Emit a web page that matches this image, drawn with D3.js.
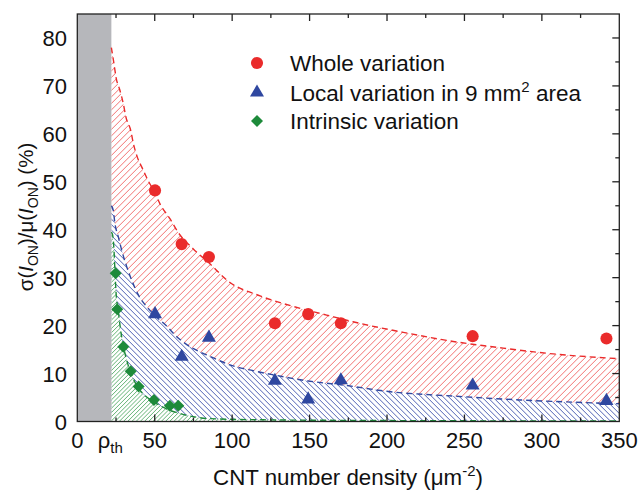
<!DOCTYPE html>
<html><head><meta charset="utf-8">
<script src="https://cdn.jsdelivr.net/npm/d3@7"></script>
<style>body{margin:0;background:#fff}text{font-family:"Liberation Sans",Arial,sans-serif;fill:#111}</style>
</head><body><svg id="c" width="638" height="490"></svg>
<script>
// ---- data ----
const xTicks = [0, 50, 100, 150, 200, 250, 300, 350];
const yTicks = [0, 10, 20, 30, 40, 50, 60, 70, 80];
const rhoTh = 22;
const densityX = [50.2, 67.4, 85, 127.6, 149.1, 170.2, 255.3, 341.7];
const wholeY = [48.2, 37.0, 34.3, 20.5, 22.4, 20.5, 17.8, 17.3];
const localY = [22.4, 13.5, 17.5, 8.5, 4.6, 8.6, 7.5, 4.3];
const intrinsicX = [24.8, 25.8, 29.7, 34.5, 39.6, 49.5, 59.8, 65.2];
const intrinsicY = [30.9, 23.4, 15.6, 10.5, 7.3, 4.5, 3.3, 3.3];
const wholeFitX = [22, 23.7, 25, 27.6, 29.7, 31.4, 34.5, 36.2, 38.7, 42.2, 45.8, 50, 53.4, 59.8, 65.2, 74.9, 84.6, 98.6, 118, 139.4, 161, 178, 210.5, 242.7, 275, 307.3, 350];
const wholeFitY = [78, 74.6, 71.8, 69, 66.3, 63.5, 60.7, 58, 55.2, 52.7, 50.2, 47.8, 45.4, 42.3, 39.4, 36, 33.2, 29, 26.2, 24, 22.2, 20.8, 18.6, 16.7, 15.3, 14.1, 13.1];
const localFitX = [22, 23.2, 24.3, 26.5, 28.7, 31.9, 35.1, 39.4, 45.8, 51.2, 57.7, 64.2, 72.8, 83.5, 91, 98.6, 113.6, 128.7, 150.2, 171.7, 199.7, 242.7, 285.8, 350];
const localFitY = [45, 44.1, 41.3, 38.5, 35.7, 32.3, 29.5, 26.4, 23.6, 21.8, 19.9, 17.7, 15.6, 13.9, 12.8, 11.8, 10.6, 9.6, 8.4, 7.6, 6.3, 5.3, 4.5, 3.7];
const intrinsicFitX = [22, 22.8, 23.7, 24.3, 25, 26.5, 28, 29.7, 31.9, 34.5, 39.4, 43.7, 49.1, 54.5, 60, 65, 70.6, 77.1, 85.7, 120, 200, 350];
const intrinsicFitY = [39.5, 38.9, 35.7, 31.5, 27, 23, 19, 15.8, 12.8, 10.2, 7, 5.4, 4.2, 3.1, 2.3, 1.8, 1.3, 0.9, 0.6, 0.35, 0.2, 0.1];
const legendLabels = ["Whole variation", "Local variation in 9 mm", "Intrinsic variation"];

// ---- setup ----
const svg = d3.select("#c");
const X0 = 77.3, X1 = 619.3, Y0 = 421.5, Y1 = 14;
const x = d3.scaleLinear().domain([0, 350]).range([X0, X1]);
const y = d3.scaleLinear().domain([0, 85]).range([Y0, Y1]);
const RED = "#ea2b2b", BLUE = "#2f47a0", GREEN = "#1d8a3a";

const defs = svg.append("defs");
const zip = (a, b) => a.map((v, i) => [v, b[i]]);
const wholeFit = zip(wholeFitX, wholeFitY), localFit = zip(localFitX, localFitY), intrFit = zip(intrinsicFitX, intrinsicFitY);
const area = d3.area().x(d => x(d[0])).y0(y(0)).y1(d => y(d[1])).curve(d3.curveMonotoneX);
const line = d3.line().x(d => x(d[0])).y(d => y(d[1])).curve(d3.curveMonotoneX);

const plotClip = defs.append("clipPath").attr("id", "plot");
plotClip.append("rect").attr("x", X0).attr("y", Y1).attr("width", X1 - X0).attr("height", Y0 - Y1);
const fits = { cRed: wholeFit, cBlue: localFit, cGreen: intrFit };
Object.entries(fits).forEach(([id, pts]) => {
  defs.append("clipPath").attr("id", id).append("path").attr("d", area(pts));
});

const g = svg.append("g").attr("clip-path", "url(#plot)");
function hatchLines(clipId, color, spacing, dir, w) {
  const H = Y0 - Y1;
  const hg = g.append("g").attr("clip-path", `url(#${clipId})`);
  hg.append("path").attr("d", area(fits[clipId])).attr("fill", "#ffffff");
  const segs = [];
  for (let sx = X0 - H; sx < X1 + H; sx += spacing) {
    if (dir === "/") segs.push(`M${sx},${Y0} L${sx + H},${Y1}`);
    else segs.push(`M${sx},${Y1} L${sx + H},${Y0}`);
  }
  hg.append("path").attr("d", segs.join(" ")).attr("fill", "none").attr("stroke", color).attr("stroke-width", w);
}
hatchLines("cRed", "#f27272", 6.5, "/", 1);
hatchLines("cBlue", "#5263b5", 5.5, "\\", 1);
hatchLines("cGreen", "#52aa66", 4.2, "/", 0.9);

// grey band below threshold
g.append("rect").attr("x", x(0)).attr("y", Y1).attr("width", x(rhoTh) - x(0)).attr("height", Y0 - Y1).attr("fill", "#b6b7bb");

g.append("path").attr("d", line(wholeFit)).attr("fill", "none").attr("stroke", RED).attr("stroke-width", 1.4).attr("stroke-dasharray", "6,4");
g.append("path").attr("d", line(localFit)).attr("fill", "none").attr("stroke", BLUE).attr("stroke-width", 1.4).attr("stroke-dasharray", "6,4");
g.append("path").attr("d", line(intrFit)).attr("fill", "none").attr("stroke", GREEN).attr("stroke-width", 1.4).attr("stroke-dasharray", "6,4");

// markers
const circ = d3.symbol().type(d3.symbolCircle).size(115);
const tri = d3.symbol().type(d3.symbolTriangle).size(85);
const dia = d3.symbol().type(d3.symbolSquare).size(72);
svg.append("g").selectAll("path").data(zip(densityX, wholeY)).join("path")
  .attr("d", circ).attr("transform", d => `translate(${x(d[0])},${y(d[1])})`).attr("fill", RED);
svg.append("g").selectAll("path").data(zip(densityX, localY)).join("path")
  .attr("d", tri).attr("transform", d => `translate(${x(d[0])},${y(d[1])})`).attr("fill", BLUE);
svg.append("g").selectAll("path").data(zip(intrinsicX, intrinsicY)).join("path")
  .attr("d", dia).attr("transform", d => `translate(${x(d[0])},${y(d[1])}) rotate(45)`).attr("fill", GREEN);

// axes frame and ticks (inward)
const ax = svg.append("g");
ax.append("rect").attr("x", X0).attr("y", Y1).attr("width", X1 - X0).attr("height", Y0 - Y1)
  .attr("fill", "none").attr("stroke", "#222").attr("stroke-width", 1.3);
const minorX = d3.range(25, 350, 50), minorY = d3.range(5, 85, 10);
const tk = ax.append("g").attr("stroke", "#222").attr("stroke-width", 1.3);
xTicks.slice(1, -1).forEach(v => {
  tk.append("line").attr("x1", x(v)).attr("x2", x(v)).attr("y1", Y0).attr("y2", Y0 - 7);
  tk.append("line").attr("x1", x(v)).attr("x2", x(v)).attr("y1", Y1).attr("y2", Y1 + 7);
});
minorX.forEach(v => {
  tk.append("line").attr("x1", x(v)).attr("x2", x(v)).attr("y1", Y0).attr("y2", Y0 - 4);
  tk.append("line").attr("x1", x(v)).attr("x2", x(v)).attr("y1", Y1).attr("y2", Y1 + 4);
});
yTicks.slice(1).forEach(v => {
  tk.append("line").attr("y1", y(v)).attr("y2", y(v)).attr("x1", X1).attr("x2", X1 - 7);
});
minorY.forEach(v => {
  tk.append("line").attr("y1", y(v)).attr("y2", y(v)).attr("x1", X1).attr("x2", X1 - 4);
});

// tick labels
ax.selectAll(".xl").data(xTicks.filter(v => v !== 0)).join("text")
  .attr("x", d => x(d)).attr("y", 448).attr("text-anchor", "middle").attr("font-size", 22).text(d => d);
ax.append("text").attr("x", x(0)).attr("y", 448).attr("text-anchor", "middle").attr("font-size", 22).text("0");
const rt = ax.append("text").attr("x", x(rhoTh) - 1).attr("y", 448).attr("text-anchor", "middle").attr("font-size", 22);
rt.append("tspan").text("ρ");
rt.append("tspan").attr("font-size", 15).attr("dy", 5).text("th");
ax.selectAll(".yl").data(yTicks).join("text")
  .attr("x", 67).attr("y", d => y(d) + 8).attr("text-anchor", "end").attr("font-size", 22).text(d => d);

// axis titles
const xt = svg.append("text").attr("x", 348).attr("y", 485).attr("text-anchor", "middle").attr("font-size", 22.3);
xt.append("tspan").text("CNT number density (μm");
xt.append("tspan").attr("font-size", 15).attr("dy", -9).text("-2");
xt.append("tspan").attr("dy", 9).text(")");

const yt = svg.append("text").attr("transform", "translate(33,217) rotate(-90)").attr("text-anchor", "middle").attr("font-size", 20.5);
yt.append("tspan").text("σ(");
yt.append("tspan").attr("font-style", "italic").text("I");
yt.append("tspan").attr("font-size", 14).attr("dy", 5).text("ON");
yt.append("tspan").attr("dy", -5).text(")/μ(");
yt.append("tspan").attr("font-style", "italic").text("I");
yt.append("tspan").attr("font-size", 14).attr("dy", 5).text("ON");
yt.append("tspan").attr("dy", -5).text(") (%)");

// legend
const lg = svg.append("g");
const legY = [63, 92.5, 121];
lg.append("path").attr("d", circ).attr("transform", `translate(257,${legY[0]})`).attr("fill", RED);
lg.append("path").attr("d", tri).attr("transform", `translate(257,${legY[1]})`).attr("fill", BLUE);
lg.append("path").attr("d", dia).attr("transform", `translate(257,${legY[2]}) rotate(45)`).attr("fill", GREEN);
legendLabels.forEach((t, i) => {
  const tx = lg.append("text").attr("x", 290).attr("y", legY[i] + 8).attr("font-size", 22.5);
  tx.append("tspan").text(t);
  if (i === 1) {
    tx.append("tspan").attr("font-size", 15).attr("dy", -9).text("2");
    tx.append("tspan").attr("dy", 9).text(" area");
  }
});
</script></body></html>
